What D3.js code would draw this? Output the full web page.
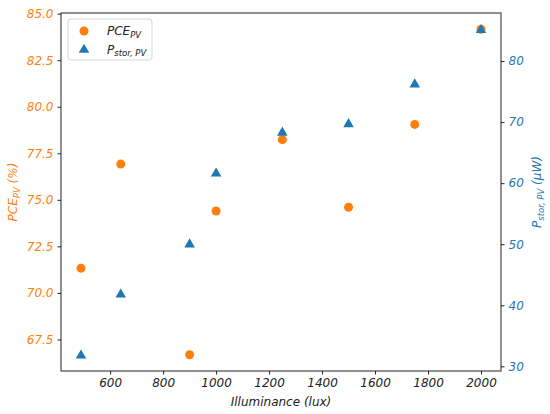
<!DOCTYPE html>
<html>
<head>
<meta charset="utf-8">
<script src="https://d3js.org/d3.v7.min.js"></script>
<style>
body { margin: 0; background: #fff; }
svg { display: block; font-family: 'DejaVu Sans', sans-serif; font-style: italic; }
</style>
</head>
<body>
<svg width="550" height="414"></svg>
<script>
// illuminance levels (lux)
var lux = [490, 640, 900, 1000, 1250, 1500, 1750, 2000];
// PCE of the PV cell (%)
var pce = [71.33, 76.92, 66.68, 74.40, 78.23, 74.60, 79.05, 84.16];
// stored power (uW)
var pstor = [31.9, 41.9, 50.1, 61.7, 68.4, 69.8, 76.3, 85.2];

var xTicks = [600, 800, 1000, 1200, 1400, 1600, 1800, 2000];
var leftTicks = [67.5, 70.0, 72.5, 75.0, 77.5, 80.0, 82.5, 85.0];
var rightTicks = [30, 40, 50, 60, 70, 80];

var orange = "#ff7f0e", blue = "#1f77b4";
var plotL = 61, plotR = 501, plotT = 13, plotB = 371;

var svg = d3.select("svg");

// matplotlib style 5% margins
function padded(vals) {
  var e = d3.extent(vals), m = (e[1] - e[0]) * 0.05;
  return [e[0] - m, e[1] + m];
}

var x = d3.scaleLinear().domain(padded(lux)).range([plotL, plotR]);
var yL = d3.scaleLinear().domain(padded(pce)).range([plotB, plotT]);
var yR = d3.scaleLinear().domain(padded(pstor)).range([plotB, plotT]);

// frame
svg.append("rect")
  .attr("x", plotL).attr("y", plotT)
  .attr("width", plotR - plotL).attr("height", plotB - plotT)
  .attr("fill", "none").attr("stroke", "#222").attr("stroke-width", 1);

var xAxis = svg.append("g")
  .attr("transform", "translate(0," + plotB + ")")
  .call(d3.axisBottom(x).tickValues(xTicks).tickFormat(d3.format("d")).tickSize(3.5).tickPadding(4));
var lAxis = svg.append("g")
  .attr("transform", "translate(" + plotL + ",0)")
  .call(d3.axisLeft(yL).tickValues(leftTicks).tickFormat(d3.format(".1f")).tickSize(3.5).tickPadding(4));
var rAxis = svg.append("g")
  .attr("transform", "translate(" + plotR + ",0)")
  .call(d3.axisRight(yR).tickValues(rightTicks).tickSize(3.5).tickPadding(4));

[xAxis, lAxis, rAxis].forEach(function (a) {
  a.select(".domain").remove();
  a.selectAll("line").attr("stroke", "#222");
  a.selectAll("text").attr("font-family", "DejaVu Sans").attr("font-style", "italic").attr("font-size", 12);
});
xAxis.selectAll("text").attr("fill", "#222");
lAxis.selectAll("text").attr("fill", orange);
rAxis.selectAll("text").attr("fill", blue);

// points
svg.append("g").selectAll("circle")
  .data(lux)
  .join("circle")
  .attr("cx", function (d) { return x(d); })
  .attr("cy", function (d, i) { return yL(pce[i]); })
  .attr("r", 4.5)
  .attr("fill", orange);

var tri = d3.symbol().type(d3.symbolTriangle).size(48);
svg.append("g").selectAll("path")
  .data(lux)
  .join("path")
  .attr("d", tri)
  .attr("transform", function (d, i) { return "translate(" + x(d) + "," + (yR(pstor[i]) + 0.8) + ")"; })
  .attr("fill", blue);

// axis titles
svg.append("text")
  .attr("x", (plotL + plotR) / 2).attr("y", 406)
  .attr("text-anchor", "middle").attr("font-size", 12).attr("fill", "#222")
  .text("Illuminance (lux)");

var lt = svg.append("text")
  .attr("transform", "translate(17," + (plotT + plotB) / 2 + ") rotate(-90)")
  .attr("text-anchor", "middle").attr("font-size", 12).attr("fill", orange);
lt.append("tspan").text("PCE");
lt.append("tspan").attr("font-size", 8.5).attr("dy", 2.5).text("PV");
lt.append("tspan").attr("dy", -2.5).text(" (%)");

var rt = svg.append("text")
  .attr("transform", "translate(541," + (plotT + plotB) / 2 + ") rotate(-90)")
  .attr("text-anchor", "middle").attr("font-size", 12).attr("fill", blue);
rt.append("tspan").text("P");
rt.append("tspan").attr("font-size", 8.5).attr("dy", 2.5).text("stor, PV");
rt.append("tspan").attr("dy", -2.5).text(" (\u03bcW)");

// legend
var lg = svg.append("g");
lg.append("rect")
  .attr("x", 68).attr("y", 19).attr("width", 84).attr("height", 41).attr("rx", 3)
  .attr("fill", "#fff").attr("fill-opacity", 0.8)
  .attr("stroke", "#d6d6d6").attr("stroke-width", 1);
lg.append("circle").attr("cx", 84).attr("cy", 31).attr("r", 4.5).attr("fill", orange);
lg.append("path").attr("d", tri).attr("transform", "translate(84,49.8)").attr("fill", blue);

var l1 = lg.append("text").attr("x", 107).attr("y", 35).attr("font-size", 12).attr("fill", "#222");
l1.append("tspan").text("PCE");
l1.append("tspan").attr("font-size", 8.5).attr("dy", 2.5).text("PV");

var l2 = lg.append("text").attr("x", 107).attr("y", 53.5).attr("font-size", 12).attr("fill", "#222");
l2.append("tspan").text("P");
l2.append("tspan").attr("font-size", 8.5).attr("dy", 2.5).text("stor, PV");
</script>
</body>
</html>
